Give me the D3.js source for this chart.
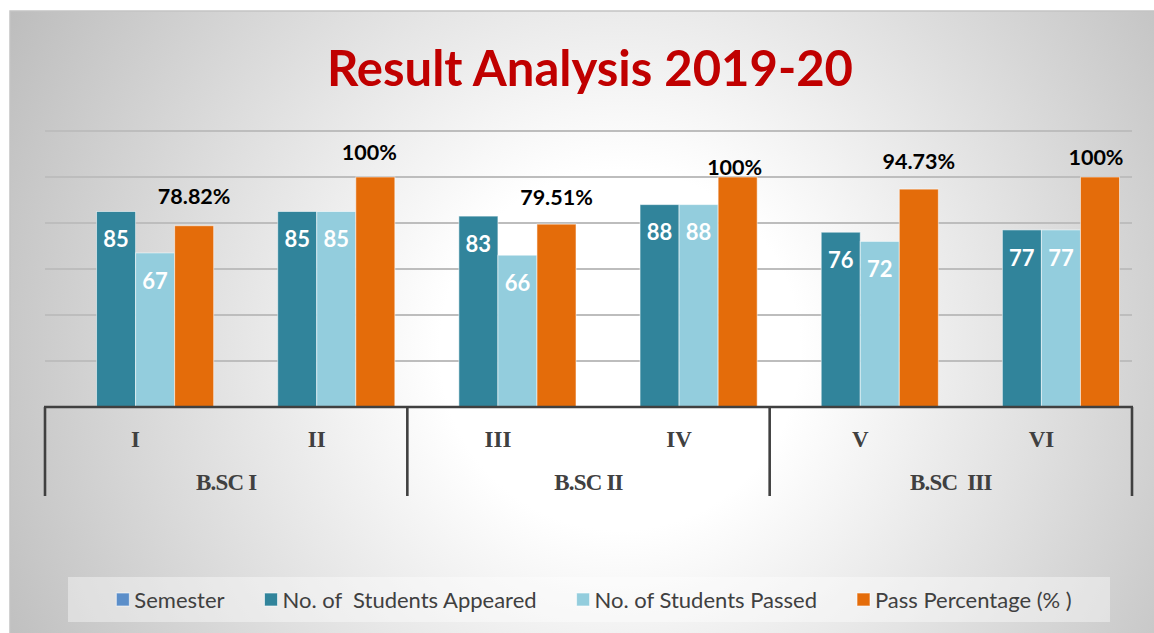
<!DOCTYPE html>
<html>
<head>
<meta charset="utf-8">
<script src="https://cdn.jsdelivr.net/npm/d3@7"></script>
<style>
  html, body { margin: 0; padding: 0; background: #ffffff; }
  svg { display: block; }
</style>
</head>
<body>
<svg id="chart" width="1154" height="633"></svg>
<script>
// ---------- data ----------
const semesters = ["I", "II", "III", "IV", "V", "VI"];
const groups = ["B.SC I", "B.SC II", "B.SC  III"];
const groupOf = ["B.SC I", "B.SC I", "B.SC II", "B.SC II", "B.SC  III", "B.SC  III"];
const seriesNames = ["Semester", "No. of  Students Appeared", "No. of Students Passed", "Pass Percentage (% )"];
const semesterValues = [0, 0, 0, 0, 0, 0];
const appeared = [85, 85, 83, 88, 76, 77];
const passed = [67, 85, 66, 88, 72, 77];
const passPct = [78.82, 100, 79.51, 100, 94.73, 100];
const passPctLabels = ["78.82%", "100%", "79.51%", "100%", "94.73%", "100%"];
const yTicks = [0, 20, 40, 60, 80, 100, 120];

// ---------- style ----------
const colors = ["#5b8ec9", "#31849b", "#93cddd", "#e46c0a"];
// manual nudges of the percentage labels (as placed in the original)
const pctLabelNudge = [[0, -29], [-6, -25], [0, -27], [-3, -10], [0, -28], [-4, -20]];

const svg = d3.select("#chart");
const W = 1154, H = 633;

// background with radial gradient
const defs = svg.append("defs");
const rg = defs.append("radialGradient").attr("id", "bg")
  .attr("gradientUnits", "userSpaceOnUse")
  .attr("cx", 620).attr("cy", 350).attr("r", 720);
rg.append("stop").attr("offset", "0").attr("stop-color", "#ffffff");
rg.append("stop").attr("offset", "0.25").attr("stop-color", "#ffffff");
rg.append("stop").attr("offset", "1").attr("stop-color", "#bababa");

svg.append("rect").attr("x", 10).attr("y", 11).attr("width", W).attr("height", H)
  .attr("fill", "url(#bg)").attr("stroke", "#c4c4c4").attr("stroke-width", 1.5);

// title
svg.append("text").attr("x", 590).attr("y", 86)
  .attr("text-anchor", "middle")
  .attr("font-family", "Lato, 'Open Sans', sans-serif")
  .attr("font-weight", "bold").attr("font-size", 49)
  .attr("fill", "#c00000")
  .text("Result Analysis 2019-20");

// scales
const plotL = 45, plotR = 1132, plotT = 131, plotB = 407;
const x0 = d3.scaleBand().domain(semesters).range([plotL, plotR]).paddingInner(0).paddingOuter(0);
const x1 = d3.scaleBand().domain(seriesNames).range([0, x0.bandwidth()]).paddingInner(0).paddingOuter(0.32);
const y = d3.scaleLinear().domain([0, 120]).range([plotB, plotT]);

// gridlines
svg.append("g").selectAll("line").data(yTicks.filter(t => t > 0)).join("line")
  .attr("x1", plotL).attr("x2", plotR)
  .attr("y1", d => y(d)).attr("y2", d => y(d))
  .attr("stroke", "#bdbdbd").attr("stroke-width", 2);

// bars
const seriesData = [semesterValues, appeared, passed, passPct];
const barG = svg.append("g");
semesters.forEach((s, i) => {
  const g = barG.append("g").attr("transform", `translate(${x0(s)},0)`);
  seriesNames.forEach((name, k) => {
    const v = seriesData[k][i];
    if (v <= 0) return;
    g.append("rect")
      .attr("x", x1(name)).attr("width", x1.bandwidth())
      .attr("y", y(v)).attr("height", y(0) - y(v))
      .attr("fill", colors[k])
      .attr("stroke", "rgba(255,255,255,0.55)").attr("stroke-width", 1);
  });
  // inside labels for appeared & passed
  [1, 2].forEach(k => {
    const v = seriesData[k][i];
    g.append("text")
      .attr("x", x1(seriesNames[k]) + x1.bandwidth() / 2)
      .attr("y", y(v) + 28)
      .attr("dy", "0.35em")
      .attr("text-anchor", "middle")
      .attr("font-family", "Lato, sans-serif").attr("font-weight", "bold")
      .attr("font-size", 22).attr("fill", "#ffffff")
      .text(v);
  });
  // percentage labels
  const n = pctLabelNudge[i];
  g.append("text")
    .attr("x", x1(seriesNames[3]) + x1.bandwidth() / 2 + n[0])
    .attr("y", y(passPct[i]) + n[1])
    .attr("dy", "0.35em")
    .attr("text-anchor", "middle")
    .attr("font-family", "Lato, sans-serif").attr("font-weight", "bold")
    .attr("font-size", 21.5).attr("fill", "#000000")
    .text(passPctLabels[i]);
});

// multi-level category axis
const axisColor = "#404040";
const axG = svg.append("g");
axG.append("line").attr("x1", plotL - 1).attr("x2", plotR + 1)
  .attr("y1", plotB).attr("y2", plotB)
  .attr("stroke", axisColor).attr("stroke-width", 2.6);

// group boundaries
const boundaries = [0, 2, 4, 6].map(i => i < 6 ? x0(semesters[i]) : x0(semesters[5]) + x0.bandwidth());
axG.selectAll("line.sep").data(boundaries).join("line").attr("class", "sep")
  .attr("x1", d => d).attr("x2", d => d)
  .attr("y1", plotB).attr("y2", 496)
  .attr("stroke", axisColor).attr("stroke-width", 2.6);

axG.selectAll("text.cat").data(semesters).join("text").attr("class", "cat")
  .attr("x", d => x0(d) + x0.bandwidth() / 2)
  .attr("y", 439).attr("dy", "0.35em")
  .attr("text-anchor", "middle")
  .attr("font-family", "'Liberation Serif', 'Times New Roman', serif")
  .attr("font-weight", "bold").attr("font-size", 23)
  .attr("fill", axisColor)
  .text(d => d);

axG.selectAll("text.grp").data(groups).join("text").attr("class", "grp")
  .attr("x", d => {
    const idx = groupOf.map((g, i) => g === d ? i : -1).filter(i => i >= 0);
    const a = x0(semesters[idx[0]]), b = x0(semesters[idx[idx.length - 1]]) + x0.bandwidth();
    return (a + b) / 2;
  })
  .attr("y", 482).attr("dy", "0.35em")
  .attr("text-anchor", "middle")
  .attr("font-family", "'Liberation Serif', 'Times New Roman', serif")
  .attr("font-weight", "bold").attr("font-size", 23)
  .attr("letter-spacing", -0.8)
  .attr("fill", axisColor)
  .style("white-space", "pre")
  .attr("xml:space", "preserve")
  .text(d => d);

// legend
svg.append("rect").attr("x", 68).attr("y", 577).attr("width", 1042).attr("height", 45)
  .attr("fill", "#ffffff").attr("fill-opacity", 0.4);
const legG = svg.append("g");
const items = [];
seriesNames.forEach((name, k) => {
  const it = legG.append("g");
  it.append("rect").attr("x", 0).attr("y", -7).attr("width", 13).attr("height", 13)
    .attr("fill", colors[k]).attr("stroke", "rgba(255,255,255,0.6)").attr("stroke-width", 1);
  const t = it.append("text").attr("x", 18).attr("y", 0).attr("dy", "0.35em")
    .attr("font-family", "Lato, sans-serif").attr("font-size", 22)
    .attr("fill", "#404040")
    .attr("xml:space", "preserve").style("white-space", "pre")
    .text(name);
  const w = 18 + t.node().getComputedTextLength();
  items.push({ g: it, w });
});
const gap = 40;
const total = d3.sum(items, d => d.w) + gap * (items.length - 1);
let start = 594 - total / 2;
items.forEach(d => { d.g.attr("transform", `translate(${start},600)`); start += d.w + gap; });
</script>
</body>
</html>
